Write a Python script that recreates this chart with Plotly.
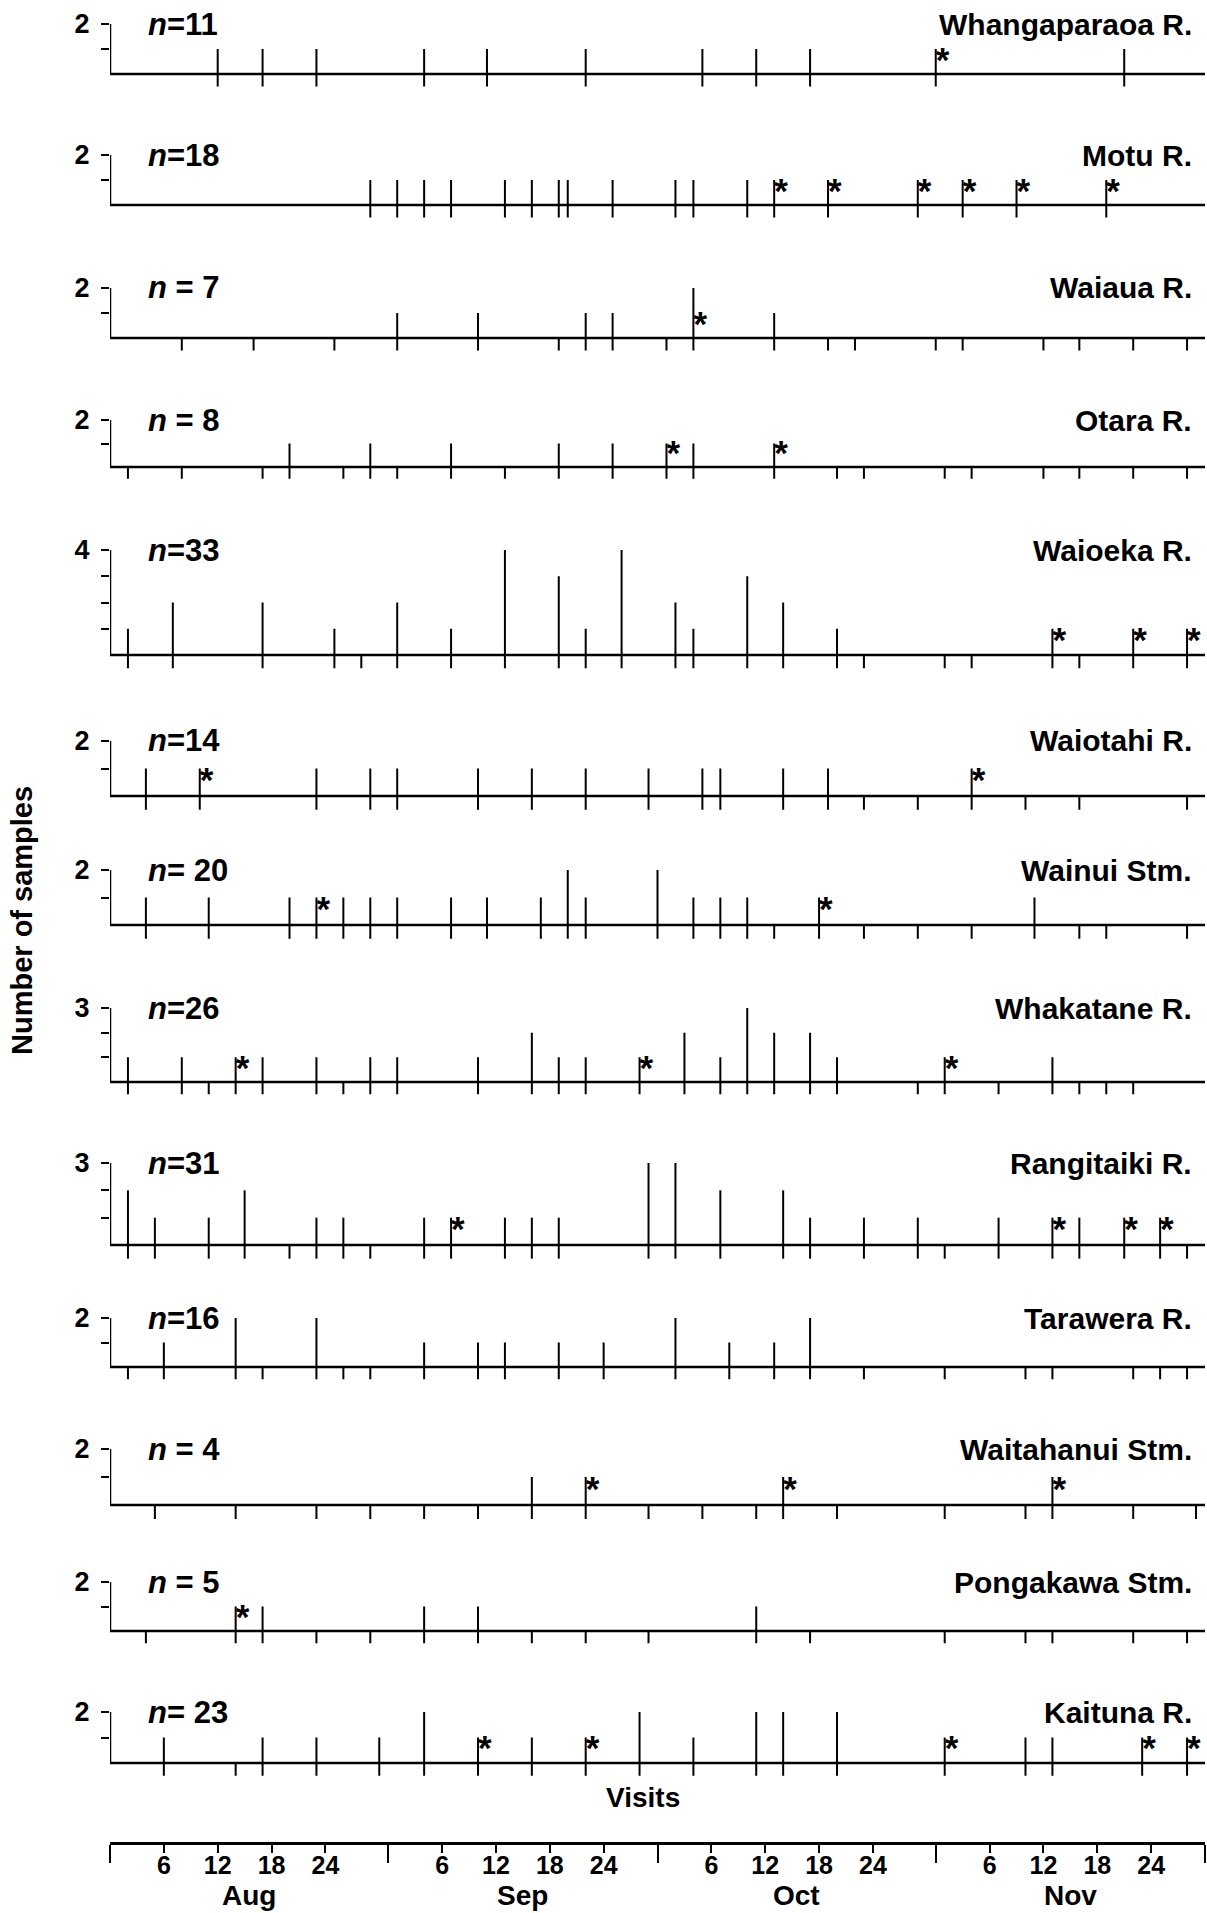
import plotly.graph_objects as go

# ---------------- DATA ----------------
# x values: day of the season, counted from 31 July (1 = 1 Aug, 32 = 1 Sep, 62 = 1 Oct, 93 = 1 Nov)
rivers = ["Whangaparaoa R.", "Motu R.", "Waiaua R.", "Otara R.", "Waioeka R.",
          "Waiotahi R.", "Wainui Stm.", "Whakatane R.", "Rangitaiki R.",
          "Tarawera R.", "Waitahanui Stm.", "Pongakawa Stm.", "Kaituna R."]
n_labels = ["n=11", "n=18", "n = 7", "n = 8", "n=33", "n=14", "n= 20",
            "n=26", "n=31", "n=16", "n = 4", "n = 5", "n= 23"]
y_max = [2, 2, 2, 2, 4, 2, 2, 3, 3, 2, 2, 2, 2]

# (day, number of samples)
whangaparaoa_samples = [(12, 1), (17, 1), (23, 1), (35, 1), (42, 1), (53, 1), (66, 1),
                        (72, 1), (78, 1), (92, 1), (113, 1)]
whangaparaoa_stars = [92]
whangaparaoa_empty = []

motu_samples = [(29, 1), (32, 1), (35, 1), (38, 1), (44, 1), (47, 1), (50, 1), (51, 1),
                (56, 1), (63, 1), (65, 1), (71, 1), (74, 1), (80, 1), (90, 1), (95, 1),
                (101, 1), (111, 1)]
motu_stars = [74, 80, 90, 95, 101, 111]
motu_empty = []

waiaua_samples = [(32, 1), (41, 1), (53, 1), (56, 1), (65, 2), (74, 1)]
waiaua_stars = [65]
waiaua_empty = [8, 16, 25, 50, 62, 80, 83, 92, 95, 104, 108, 114, 120]

otara_samples = [(20, 1), (29, 1), (38, 1), (50, 1), (56, 1), (62, 1), (65, 1), (74, 1)]
otara_stars = [62, 74]
otara_empty = [2, 8, 17, 26, 32, 44, 81, 84, 93, 96, 104, 108, 114, 120]

waioeka_samples = [(2, 1), (7, 2), (17, 2), (25, 1), (32, 2), (38, 1), (44, 4), (50, 3),
                   (53, 1), (57, 4), (63, 2), (65, 1), (71, 3), (75, 2), (81, 1),
                   (105, 1), (114, 1), (120, 1)]
waioeka_stars = [105, 114, 120]
waioeka_empty = [28, 84, 93, 96, 108]

waiotahi_samples = [(4, 1), (10, 1), (23, 1), (29, 1), (32, 1), (41, 1), (47, 1), (53, 1),
                    (60, 1), (66, 1), (68, 1), (75, 1), (80, 1), (96, 1)]
waiotahi_stars = [10, 96]
waiotahi_empty = [84, 90, 102, 108, 120]

wainui_samples = [(4, 1), (11, 1), (20, 1), (23, 1), (26, 1), (29, 1), (32, 1), (38, 1),
                  (42, 1), (48, 1), (51, 2), (53, 1), (61, 2), (65, 1), (68, 1), (71, 1),
                  (79, 1), (103, 1)]
wainui_stars = [23, 79]
wainui_empty = [74, 84, 90, 96, 108, 111, 120]

whakatane_samples = [(2, 1), (8, 1), (14, 1), (17, 1), (23, 1), (29, 1), (32, 1), (41, 1),
                     (47, 2), (50, 1), (53, 1), (59, 1), (64, 2), (68, 1), (71, 3), (74, 2),
                     (78, 2), (81, 1), (93, 1), (105, 1)]
whakatane_stars = [14, 59, 93]
whakatane_empty = [11, 26, 90, 99, 108, 111, 114]

rangitaiki_samples = [(2, 2), (5, 1), (11, 1), (15, 2), (23, 1), (26, 1), (35, 1), (38, 1),
                      (44, 1), (47, 1), (50, 1), (60, 3), (63, 3), (68, 2), (75, 2), (78, 1),
                      (84, 1), (90, 1), (99, 1), (105, 1), (108, 1), (113, 1), (117, 1)]
rangitaiki_stars = [38, 105, 113, 117]
rangitaiki_empty = [20, 29, 93, 120]

tarawera_samples = [(6, 1), (14, 2), (23, 2), (35, 1), (41, 1), (44, 1), (50, 1), (55, 1),
                    (63, 2), (69, 1), (74, 1), (78, 2)]
tarawera_stars = []
tarawera_empty = [2, 17, 26, 29, 84, 93, 102, 105, 114, 117, 120]

waitahanui_samples = [(47, 1), (53, 1), (75, 1), (105, 1)]
waitahanui_stars = [53, 75, 105]
waitahanui_empty = [5, 14, 23, 29, 35, 41, 60, 66, 72, 81, 93, 102, 114, 121]

pongakawa_samples = [(14, 1), (17, 1), (35, 1), (41, 1), (72, 1)]
pongakawa_stars = [14]
pongakawa_empty = [4, 23, 29, 47, 53, 60, 78, 93, 102, 105, 114, 120]

kaituna_samples = [(6, 1), (17, 1), (23, 1), (30, 1), (35, 2), (41, 1), (47, 1), (53, 1),
                   (59, 2), (65, 1), (72, 2), (75, 2), (81, 2), (93, 1), (102, 1), (105, 1),
                   (115, 1), (120, 1)]
kaituna_stars = [41, 53, 93, 115, 120]
kaituna_empty = [14]

# bottom date axis
day_ticks = [6, 12, 18, 24, 37, 43, 49, 55, 67, 73, 79, 85, 98, 104, 110, 116]
day_labels = ["6", "12", "18", "24"] * 4
month_bounds = [0, 31, 61, 92, 122]
month_names = ["Aug", "Sep", "Oct", "Nov"]
month_mid = [15.5, 46, 76.5, 107]

samples_all = [whangaparaoa_samples, motu_samples, waiaua_samples, otara_samples,
               waioeka_samples, waiotahi_samples, wainui_samples, whakatane_samples,
               rangitaiki_samples, tarawera_samples, waitahanui_samples,
               pongakawa_samples, kaituna_samples]
stars_all = [whangaparaoa_stars, motu_stars, waiaua_stars, otara_stars, waioeka_stars,
             waiotahi_stars, wainui_stars, whakatane_stars, rangitaiki_stars,
             tarawera_stars, waitahanui_stars, pongakawa_stars, kaituna_stars]
empty_all = [whangaparaoa_empty, motu_empty, waiaua_empty, otara_empty, waioeka_empty,
             waiotahi_empty, wainui_empty, whakatane_empty, rangitaiki_empty,
             tarawera_empty, waitahanui_empty, pongakawa_empty, kaituna_empty]

# ---------------- LAYOUT (pixels) ----------------
W, H = 1207, 1913
panel_top = [24, 155, 288, 420, 550, 741, 870, 1008, 1163, 1318, 1449, 1582, 1712]
panel_base = [74, 205, 338, 467, 655, 796, 925, 1082, 1245, 1367, 1505, 1631, 1763]
X_LEFT, X_RIGHT = 110, 1205
AXIS_Y = 1843
BELOW = 0.5
FAM = "Liberation Sans, Arial, Helvetica, sans-serif"


def font(size):
    return dict(family=FAM, size=size, color="black", weight="bold")


fig = go.Figure()
layout_axes = {}
for i, name in enumerate(rivers):
    suf = "" if i == 0 else str(i + 1)
    yref = "y" + suf
    top = y_max[i]
    unit = (panel_base[i] - panel_top[i]) / top
    lo = -0.62
    dom = [1 - (panel_base[i] - lo * unit) / H, 1 - panel_top[i] / H]
    layout_axes["yaxis" + suf] = dict(
        domain=dom, range=[lo, top], anchor="x", automargin=False,
        tickmode="array", tickvals=list(range(1, top + 1)),
        ticktext=[""] * (top - 1) + [str(top)],
        ticks="outside", ticklen=8, tickwidth=2, tickcolor="black",
        ticklabelstandoff=6,
        showline=False, showgrid=False, zeroline=False, fixedrange=True,
        tickfont=font(27),
    )
    # axis frame: vertical axis + baseline
    fig.add_trace(go.Scatter(x=[0, 0, 122], y=[top, 0, 0], mode="lines",
                             line=dict(color="black", width=2.5),
                             xaxis="x", yaxis=yref, hoverinfo="skip", showlegend=False))
    # visit marks / sample bars
    xs, ys = [], []
    for d, c in samples_all[i]:
        xs += [d, d, None]
        ys += [-BELOW, c, None]
    for d in empty_all[i]:
        xs += [d, d, None]
        ys += [-BELOW, 0, None]
    fig.add_trace(go.Scatter(x=xs, y=ys, mode="lines",
                             line=dict(color="black", width=2),
                             xaxis="x", yaxis=yref, hoverinfo="skip", showlegend=False))
    if stars_all[i]:
        fig.add_trace(go.Scatter(x=stars_all[i], y=[0.45] * len(stars_all[i]),
                                 mode="text", text=["*"] * len(stars_all[i]),
                                 textposition="middle right", textfont=font(35),
                                 cliponaxis=False, xaxis="x", yaxis=yref,
                                 hoverinfo="skip", showlegend=False))
    nl = n_labels[i].replace("n", "<i>n</i>", 1)
    fig.add_annotation(x=4, y=top, xref="x", yref=yref, text=nl, showarrow=False,
                       xanchor="left", yanchor="middle", font=font(31))
    fig.add_annotation(x=1194 / W, y=top, xref="paper", yref=yref, text=name,
                       showarrow=False, xanchor="right", yanchor="middle", font=font(30))

fig.update_layout(
    width=W, height=H, margin=dict(l=0, r=0, t=0, b=0, autoexpand=False),
    paper_bgcolor="white", plot_bgcolor="white", showlegend=False,
    xaxis=dict(domain=[X_LEFT / W, X_RIGHT / W], range=[0, 122], anchor="free",
               position=1 - AXIS_Y / H, automargin=False,
               showline=True, linewidth=2.5, linecolor="black",
               ticks="outside", ticklen=8, tickwidth=2, tickcolor="black",
               ticklabelstandoff=-9,
               tickmode="array", tickvals=day_ticks, ticktext=day_labels,
               tickfont=font(25), showgrid=False, zeroline=False, fixedrange=True,
               minor=dict(tickmode="array", tickvals=month_bounds, ticks="outside",
                          ticklen=18, tickwidth=2, tickcolor="black", showgrid=False)),
    **layout_axes,
)

for m, xm in zip(month_names, month_mid):
    fig.add_annotation(x=xm, y=1 - 1895 / H, xref="x", yref="paper", text=m,
                       showarrow=False, xanchor="center", yanchor="middle", font=font(28))
fig.add_annotation(x=643 / W, y=1 - 1797 / H, xref="paper", yref="paper", text="Visits",
                   showarrow=False, xanchor="center", yanchor="middle", font=font(28))
fig.add_annotation(x=22 / W, y=1 - 921 / H, xref="paper", yref="paper",
                   text="Number of samples", textangle=-90, showarrow=False,
                   xanchor="center", yanchor="middle", font=font(29))

fig.write_html("out.html", config={"displayModeBar": False},
               post_script="document.body.style.margin='0px';")
